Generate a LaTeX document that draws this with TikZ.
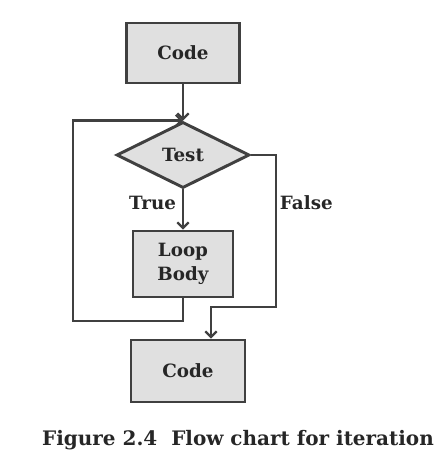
\documentclass[tikz,border=0pt]{standalone}
\usepackage{fontspec}
\setmainfont{DejaVu Serif}
\usetikzlibrary{positioning,arrows.meta,shapes.geometric}

\begin{document}
\begin{tikzpicture}[x=0.025cm, y=-0.025cm,
  every node/.style={font=\fontsize{13}{17}\selectfont\bfseries, align=center, text=black!85},
  box/.style={draw=black!75, line width=2.1pt, fill=black!12, inner sep=0pt},
  cond/.style={diamond, draw=black!75, line width=2.1pt, fill=black!12, inner sep=0pt, minimum width=3.325cm, minimum height=1.65cm},
  flow/.style={draw=black!75, line width=2.1pt, -{Straight Barb[length=4pt,width=8pt,line width=1.6pt]}}]
\useasboundingbox (0,0) rectangle (438,459);
\node[box, minimum width=2.825cm, minimum height=1.5cm] (code1) at (183,53) {Code};
\node[cond] (test) at (183,155) {Test};
\node[box, minimum width=2.5cm, minimum height=1.65cm] (body) at (183,264) {Loop\\Body};
\node[box, minimum width=2.85cm, minimum height=1.55cm] (code2) at (188,371) {Code};
\node[anchor=east] (tru) at (181,203) {True};
\node[anchor=west] (fls) at (275,203) {False};
\node[font=\fontsize{14.2}{17}\selectfont\bfseries] (cap) at (238,440) {Figure 2.4\ \ Flow chart for iteration};
\coordinate (retl) at (73,321);
\coordinate (fcorner) at (276,307);
\coordinate (fdrop) at (211,307);
% connectors
\draw[flow] (code1) -- (test);
\draw[flow] (test) -- (body);
\draw[flow] (body.south) |- (retl) |- (test.north);
\draw[flow] (test.east) -| (fcorner) -- (fdrop) -- (fdrop |- code2.north);
\end{tikzpicture}
\end{document}
